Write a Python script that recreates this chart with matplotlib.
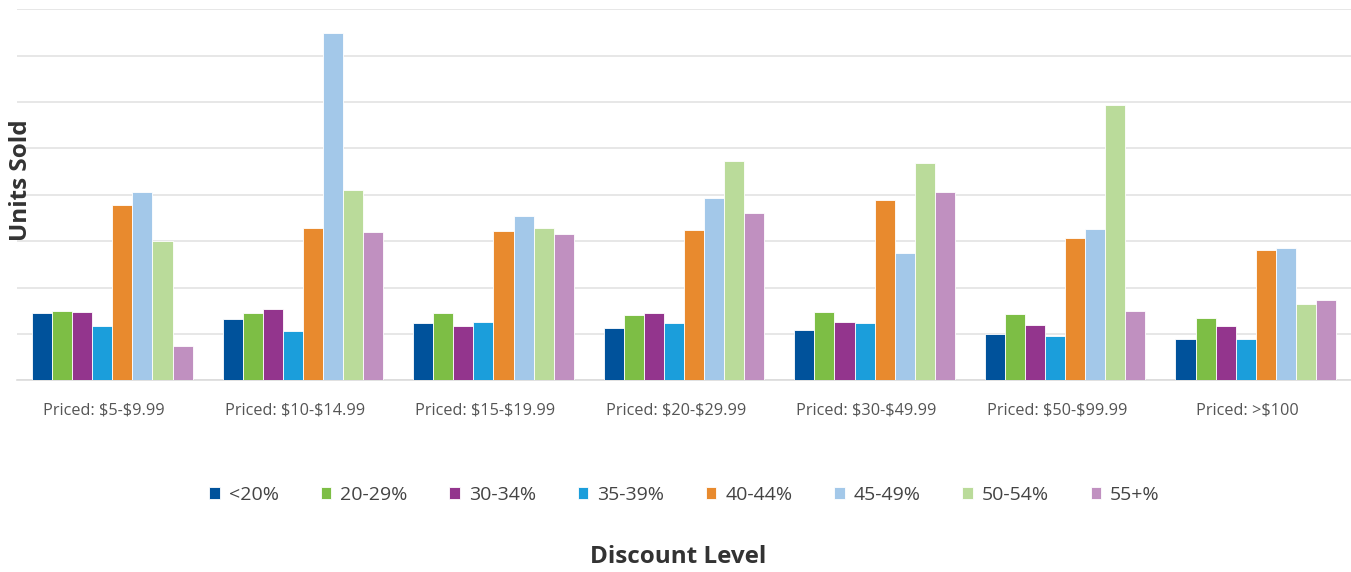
import matplotlib.pyplot as plt
import matplotlib.transforms as mtransforms
import numpy as np

plt.rcParams['font.family'] = ['Open Sans', 'DejaVu Sans']

categories = ['Priced: $5-$9.99', 'Priced: $10-$14.99', 'Priced: $15-$19.99',
              'Priced: $20-$29.99', 'Priced: $30-$49.99', 'Priced: $50-$99.99',
              'Priced: >$100']
series_names = ['<20%', '20-29%', '30-34%', '35-39%', '40-44%', '45-49%', '50-54%', '55+%']

lt20 = [1.45, 1.32, 1.23, 1.13, 1.09, 1.00, 0.90]
d20_29 = [1.50, 1.45, 1.45, 1.41, 1.47, 1.43, 1.35]
d30_34 = [1.47, 1.53, 1.17, 1.45, 1.26, 1.19, 1.16]
d35_39 = [1.16, 1.07, 1.26, 1.23, 1.23, 0.96, 0.89]
d40_44 = [3.79, 3.28, 3.22, 3.24, 3.89, 3.07, 2.81]
d45_49 = [4.05, 7.50, 3.54, 3.93, 2.75, 3.26, 2.85]
d50_54 = [3.00, 4.11, 3.28, 4.73, 4.68, 5.93, 1.64]
d55p = [0.74, 3.19, 3.15, 3.61, 4.06, 1.49, 1.73]

colors = ['#00529B', '#7DBE45', '#93358D', '#1B9EDB',
          '#E88A2E', '#A3C8E9', '#BADB9A', '#C090C0']


def main():
    series = [lt20, d20_29, d30_34, d35_39, d40_44, d45_49, d50_54, d55p]

    fig = plt.figure(figsize=(13.51, 5.72), dpi=100)
    ax = fig.add_axes([0.0126, 0.3352, 0.9874, 0.6485])

    x = np.arange(len(categories))
    w = 0.1053
    for i, (vals, name, c) in enumerate(zip(series, series_names, colors)):
        ax.bar(x + (i - 3.5) * w, vals, width=w, color=c, label=name,
               edgecolor='white', linewidth=0.6, zorder=3)

    ax.set_xlim(-0.5, len(categories) - 0.5)
    ax.set_ylim(0, 8)
    ax.set_yticks(range(0, 9))
    ax.set_yticklabels([])
    ax.tick_params(axis='y', length=0)
    ax.grid(axis='y', color='#e3e3e3', linewidth=1.2, zorder=0)
    for s in ['top', 'right', 'left']:
        ax.spines[s].set_visible(False)
    ax.spines['bottom'].set_color('#dcdcdc')
    ax.spines['bottom'].set_linewidth(1.2)

    ax.set_xticks(x)
    ax.set_xticklabels(categories, fontsize=11.7, color='#555555')
    ax.tick_params(axis='x', length=0, pad=16)
    # labels sit a little left of the group centres in the original
    offset = mtransforms.ScaledTranslation(-8 / 100, 0, fig.dpi_scale_trans)
    for lbl in ax.get_xticklabels():
        lbl.set_parse_math(False)
        lbl.set_transform(lbl.get_transform() + offset)

    fig.legend(loc='center', bbox_to_anchor=(0.5067, 0.1346), ncol=8,
               frameon=False, fontsize=14, handlelength=0.55, handleheight=0.6,
               handletextpad=0.45, columnspacing=2.15, labelcolor='#444444')

    fig.text(0.502, 0.026, 'Discount Level', ha='center', va='center',
             fontsize=17.5, fontweight='bold', color='#333333')
    fig.text(0.0155, 0.685, 'Units Sold', ha='center', va='center',
             rotation=90, fontsize=17.5, fontweight='bold', color='#333333')

    fig.savefig('out.png', dpi=100)


if __name__ == "__main__":
    main()
